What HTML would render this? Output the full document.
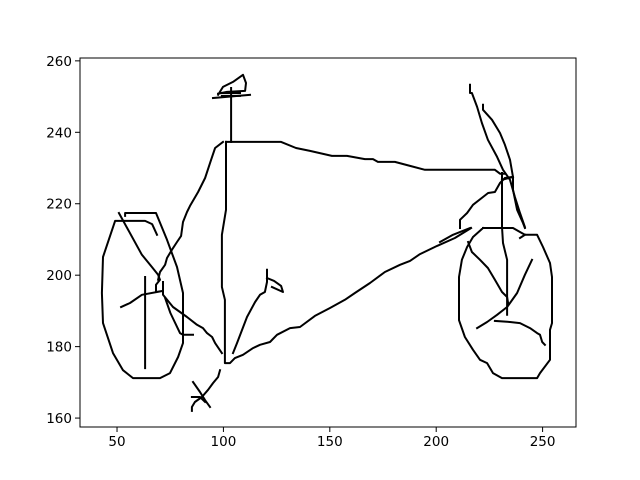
<!DOCTYPE html>
<html><head><meta charset="utf-8"><style>
html,body{margin:0;padding:0;background:#fff;}
svg{display:block;font-family:"DejaVu Sans","Liberation Sans",sans-serif;}
</style></head><body>
<svg id="chart" width="640" height="480" xmlns="http://www.w3.org/2000/svg">
<rect x="0" y="0" width="640" height="480" fill="#fff"/>
<g id="plot"></g>
<g id="axes"></g>
</svg>
<script>
const xTicks = [50, 100, 150, 200, 250];
const yTicks = [160, 180, 200, 220, 240, 260];
const xDomain = [32.6, 265.7];
const yDomain = [157.5, 260.8];

const leftWheelX = [53.8,53.8,68.3,73.5,78.2,81.0,81.0,78.7,74.9,70.2,57.5,52.8,48.1,43.4,42.9,43.4,49.1,63.2,66.5,68.8];
const leftWheelY = [216.6,217.4,217.4,209.9,202.3,195.0,181.0,177.1,172.6,171.2,171.2,173.4,178.2,186.6,195.0,205.1,215.2,215.2,214.3,211.3];
const leftForkX = [50.9,61.7,66.4,69.3,70.2,68.3,68.3,71.6,61.7,56.1,51.9];
const leftForkY = [217.4,205.7,202.3,200.1,198.7,197.3,195.3,195.6,194.5,192.2,191.1];
const downTubeX = [99.8,96.1,94.2,91.4,88.1,84.3,82.9,81.0,80.1,78.2,75.8,73.5,72.6,70.2,69.3];
const downTubeY = [237.3,235.6,232.3,227.2,223.3,219.4,217.7,214.9,211.0,209.3,207.1,204.8,202.9,200.9,198.7];
const spokeX = [63.2,63.2];
const spokeY = [199.5,174.0];
const chainStayX = [71.6,71.6,76.3,82.9,87.6,90.4,92.3,94.7,96.1,99.3];
const chainStayY = [198.1,194.5,191.1,188.3,186.1,185.2,183.8,182.7,181.0,178.2];
const forkBranchX = [72.6,75.1,79.6,81.0,85.7];
const forkBranchY = [193.6,189.4,183.8,183.3,183.3];
const seatTubeX = [101.2,101.2,99.3,99.3,100.7,100.7,103.1,105.4,109.2,113.9,117.2,121.9,125.2,131.3,136.0,143.0,150.1,157.1,161.8,168.9,175.9,183.0,187.7,192.4,200.4,208.8,216.4];
const seatTubeY = [237.3,218.3,211.3,196.7,193.1,175.4,175.4,176.8,177.7,179.6,180.5,181.3,183.3,185.2,185.5,188.6,190.8,193.1,195.0,197.8,200.9,202.9,204.0,205.9,208.2,210.4,213.2];
const crankX = [104.5,106.4,111.1,114.9,117.2,119.5,120.5,120.5];
const crankY = [178.2,181.0,188.3,192.5,194.5,195.3,198.1,201.5];
const pedalX = [120.5,123.8,127.1,128.0,122.8];
const pedalY = [199.2,198.4,197.0,195.3,196.7];
const topBarX = [101.2,127.1,134.1,140.7,151.0,158.1,166.5,170.3,172.6,180.6,187.7,194.7,227.6,230.0,232.3];
const topBarY = [237.3,237.3,235.6,234.8,233.4,233.4,232.5,232.5,231.7,231.7,230.6,229.5,229.5,228.4,228.4];
const seatPostX = [103.6,103.6];
const seatPostY = [237.3,252.4];
const seatBaseX = [95.1,112.5];
const seatBaseY = [249.6,250.5];
const seatX = [97.5,99.8,104.5,109.2,110.6,110.2,101.7,97.5];
const seatY = [250.5,252.7,254.1,256.1,253.8,251.6,251.3,250.8];
const seatBar1X = [99.3,107.8];
const seatBar1Y = [251.0,251.0];
const seatBar2X = [99.3,107.8];
const seatBar2Y = [250.2,250.2];
const pedalLeg1X = [98.4,97.5,95.1,92.8,89.9,86.6,85.2,85.2];
const pedalLeg1Y = [173.4,171.5,169.8,167.9,165.9,164.5,163.1,162.0];
const pedalLeg2X = [85.7,89.0,91.4,93.7];
const pedalLeg2Y = [170.1,167.3,165.0,163.1];
const pedalLeg3X = [85.2,89.0,91.4];
const pedalLeg3Y = [165.9,165.9,164.5];
const headTubeX = [230.9,230.9,231.4,233.3,233.3];
const headTubeY = [228.6,213.5,209.0,204.3,188.9];
const rightDownX = [235.6,232.3,230.0,227.6,224.4,222.0,217.3,214.5,211.2,211.2];
const rightDownY = [227.5,227.2,225.8,223.3,223.0,221.9,219.7,217.4,215.5,213.2];
const handle1X = [215.9,215.9,216.8,219.2,221.5,224.3,228.6,231.4,234.7,237.0,239.4,241.7];
const handle1Y = [253.3,251.0,251.0,247.1,242.6,237.9,233.1,229.5,226.7,221.9,217.4,213.5];
const handle2X = [222.0,222.0,226.2,230.0,232.3,234.7,236.1,236.1,238.0,240.8,241.7];
const handle2Y = [247.7,246.3,243.5,239.8,236.5,232.3,227.5,223.9,218.3,214.6,213.2];
const handleCrossX = [230.9,236.1];
const handleCrossY = [226.7,227.5];
const rightWheelX = [222.0,236.1,239.4,241.7,247.4,250.2,253.5,254.4,254.4,253.5,253.5,248.8,247.4,230.9,226.7,223.9,220.6,217.3,213.5,210.7,210.7,212.1,214.5,217.3,222.0];
const rightWheelY = [213.2,213.2,212.1,211.3,211.3,207.9,203.4,199.5,186.6,184.7,176.3,172.6,171.2,171.2,172.6,175.4,176.3,179.1,182.7,187.4,199.5,204.3,207.9,210.7,213.2];
const tickMarkX = [239.4,241.7];
const tickMarkY = [210.4,211.3];
const rightInnerX = [215.0,216.8,220.6,224.3,227.6,230.9,233.3,233.8];
const rightInnerY = [209.3,206.5,204.3,202.0,198.7,195.3,193.9,192.2];
const rightChainX = [245.0,241.7,238.0,234.7,233.3,228.6,223.9,219.2];
const rightChainY = [204.3,200.1,195.0,192.2,191.1,188.9,186.9,185.2];
const rightArcX = [227.6,234.7,239.4,244.1,247.4,248.8,249.8,251.1];
const rightArcY = [187.2,186.9,186.6,185.2,183.8,183.3,181.3,180.5];
const rightDashX = [201.8,207.9,215.9];
const rightDashY = [209.3,211.3,213.2];

const L = 80, R = 576, T = 58, B = 427;
function sx(v){ return L + (v - xDomain[0]) / (xDomain[1] - xDomain[0]) * (R - L); }
function sy(v){ return B - (v - yDomain[0]) / (yDomain[1] - yDomain[0]) * (B - T); }
const NS = 'http://www.w3.org/2000/svg';
const plot = document.getElementById('plot');
const axes = document.getElementById('axes');

const strokes = [
 ['left-wheel', leftWheelX, leftWheelY], ['left-fork', leftForkX, leftForkY],
 ['down-tube', downTubeX, downTubeY], ['left-spoke', spokeX, spokeY],
 ['chain-stay', chainStayX, chainStayY], ['fork-branch', forkBranchX, forkBranchY],
 ['seat-tube', seatTubeX, seatTubeY], ['crank', crankX, crankY], ['pedal', pedalX, pedalY],
 ['top-bar', topBarX, topBarY], ['seat-post', seatPostX, seatPostY],
 ['seat-base', seatBaseX, seatBaseY], ['seat', seatX, seatY],
 ['seat-bar-1', seatBar1X, seatBar1Y], ['seat-bar-2', seatBar2X, seatBar2Y],
 ['pedal-leg-1', pedalLeg1X, pedalLeg1Y], ['pedal-leg-2', pedalLeg2X, pedalLeg2Y],
 ['pedal-leg-3', pedalLeg3X, pedalLeg3Y], ['head-tube', headTubeX, headTubeY],
 ['right-down-tube', rightDownX, rightDownY], ['handle-1', handle1X, handle1Y],
 ['handle-2', handle2X, handle2Y], ['handle-cross', handleCrossX, handleCrossY],
 ['right-wheel', rightWheelX, rightWheelY], ['right-tick', tickMarkX, tickMarkY],
 ['right-inner', rightInnerX, rightInnerY], ['right-chain', rightChainX, rightChainY],
 ['right-arc', rightArcX, rightArcY], ['right-dash', rightDashX, rightDashY]
];
strokes.forEach(s => {
  const p = document.createElementNS(NS, 'polyline');
  p.setAttribute('points', s[1].map((x, i) => sx(x).toFixed(1) + ',' + sy(s[2][i]).toFixed(1)).join(' '));
  p.setAttribute('fill', 'none');
  p.setAttribute('stroke', '#000');
  p.setAttribute('stroke-width', '2');
  p.setAttribute('stroke-linejoin', 'round');
  p.setAttribute('stroke-linecap', 'square');
  
  
  plot.appendChild(p);
});

const frame = document.createElementNS(NS, 'rect');
frame.setAttribute('x', L); frame.setAttribute('y', T);
frame.setAttribute('width', R - L); frame.setAttribute('height', B - T);
frame.setAttribute('fill', 'none'); frame.setAttribute('stroke', '#000'); frame.setAttribute('stroke-width', '1');


axes.appendChild(frame);

xTicks.forEach(v => {
  const x = sx(v);
  const t = document.createElementNS(NS, 'line');
  t.setAttribute('x1', x); t.setAttribute('x2', x); t.setAttribute('y1', B); t.setAttribute('y2', B + 5);
  t.setAttribute('stroke', '#000');
  
  
  axes.appendChild(t);
  const tx = document.createElementNS(NS, 'text');
  tx.setAttribute('x', x); tx.setAttribute('y', B + 19); tx.setAttribute('text-anchor', 'middle');
  tx.setAttribute('font-size', '13.5');
  tx.textContent = v;
  
  
  axes.appendChild(tx);
});
yTicks.forEach(v => {
  const y = sy(v);
  const t = document.createElementNS(NS, 'line');
  t.setAttribute('x1', L - 5); t.setAttribute('x2', L); t.setAttribute('y1', y); t.setAttribute('y2', y);
  t.setAttribute('stroke', '#000');
  
  
  axes.appendChild(t);
  const tx = document.createElementNS(NS, 'text');
  tx.setAttribute('x', L - 8); tx.setAttribute('y', y + 5); tx.setAttribute('text-anchor', 'end');
  tx.setAttribute('font-size', '13.5');
  tx.textContent = v;
  
  
  axes.appendChild(tx);
});
</script>
</body></html>
